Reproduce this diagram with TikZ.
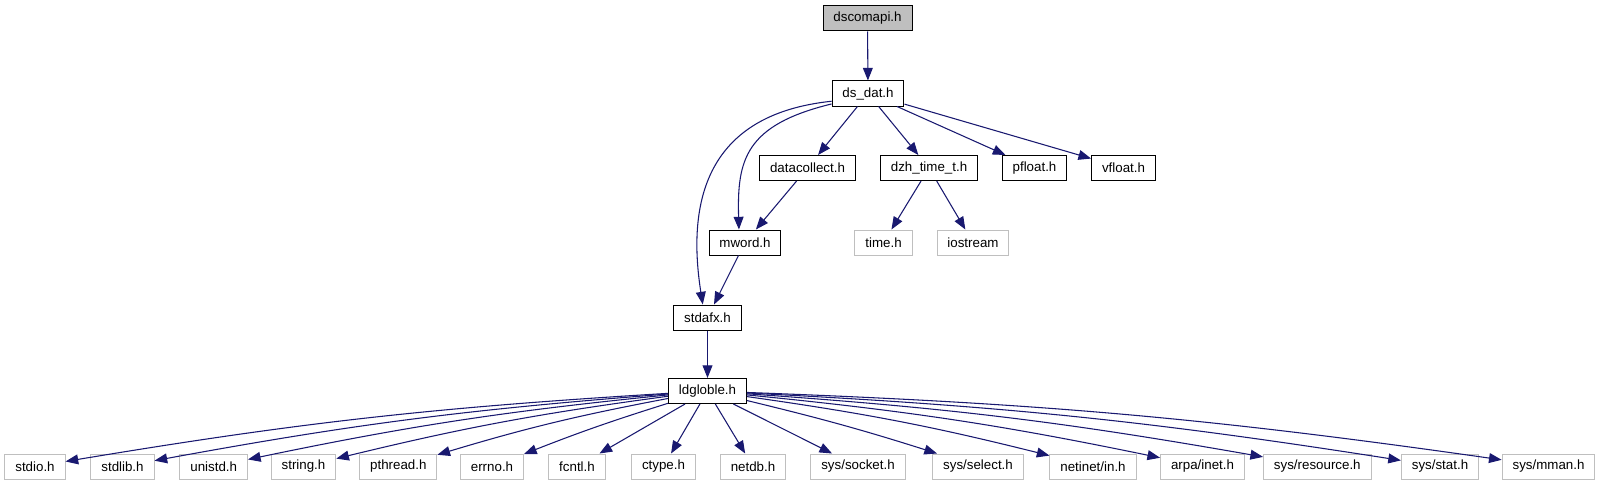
\documentclass[tikz,border=0pt]{standalone}
\usepackage{fontspec}
\setmainfont{Liberation Sans}
\usetikzlibrary{arrows.meta}
\definecolor{edgeblue}{HTML}{191970}
\definecolor{boxgray}{HTML}{BFBFBF}
\begin{document}
\begin{tikzpicture}[x=0.75pt,y=-0.75pt,every node/.style={font=\fontsize{10}{12}\selectfont}]
    \tikzset{
      hdr/.style={draw=black,rectangle,line width=0.75pt,fill=white,
        inner xsep=7.8pt,inner ysep=0pt,minimum height=18.75pt},
      sys/.style={hdr,draw=boxgray},
      root/.style={hdr,fill=boxgray},
      dep/.style={-{Triangle[length=9.5pt,width=7.4pt]},draw=edgeblue,
        line width=0.8pt}
    }
    \useasboundingbox (0,0) rectangle (1605,485);

    \node[root] (dscomapi) at (867.5,18.5) {dscomapi.h};
    \node[hdr] (dsdat) at (868,93.5) {ds\_dat.h};
    \node[hdr] (datacollect) at (807.5,168) {datacollect.h};
    \node[hdr] (dzhtime) at (929,168) {dzh\_time\_t.h};
    \node[hdr] (pfloat) at (1034.5,168) {pfloat.h};
    \node[hdr] (vfloat) at (1123.5,168) {vfloat.h};
    \node[hdr] (mword) at (745,242.5) {mword.h};
    \node[sys] (timeh) at (883.5,242.5) {time.h};
    \node[sys] (iostream) at (973,242.5) {iostream};
    \node[hdr] (stdafx) at (707.5,317.5) {stdafx.h};
    \node[hdr] (ldgloble) at (707.5,391) {ldgloble.h};

    \node[sys] (stdio) at (35,466.5) {stdio.h};
    \node[sys] (stdlib) at (122.5,466.5) {stdlib.h};
    \node[sys] (unistd) at (213.7,466.5) {unistd.h};
    \node[sys] (string) at (303.5,466.5) {string.h};
    \node[sys] (pthread) at (398.3,466.5) {pthread.h};
    \node[sys] (errno) at (492,466.5) {errno.h};
    \node[sys] (fcntl) at (577,466.5) {fcntl.h};
    \node[sys] (ctype) at (663.5,466.5) {ctype.h};
    \node[sys] (netdb) at (753,466.5) {netdb.h};
    \node[sys] (socket) at (858,466.5) {sys/socket.h};
    \node[sys] (select) at (978,466.5) {sys/select.h};
    \node[sys] (netinet) at (1093,466.5) {netinet/in.h};
    \node[sys] (arpa) at (1202.5,466.5) {arpa/inet.h};
    \node[sys] (resource) at (1317.3,466.5) {sys/resource.h};
    \node[sys] (sysstat) at (1440,466.5) {sys/stat.h};
    \node[sys] (mman) at (1548.5,466.5) {sys/mman.h};

    \draw[dep] (dscomapi) -- (dsdat);
    \draw[dep] (dsdat) -- (datacollect);
    \draw[dep] (dsdat) -- (dzhtime);
    \draw[dep] (dsdat) -- (pfloat);
    \draw[dep] (dsdat) -- (vfloat);
    \draw[dep] (dsdat.192) .. controls (700,115) and (688,210) .. (stdafx.110);
    \draw[dep] (dsdat.196) .. controls (745,125) and (737,160) .. (mword.115);
    \draw[dep] (datacollect) -- (mword);
    \draw[dep] (dzhtime) -- (timeh);
    \draw[dep] (dzhtime) -- (iostream);
    \draw[dep] (mword) -- (stdafx);
    \draw[dep] (stdafx) -- (ldgloble);

    \draw[dep] (ldgloble) to[bend right=3] (stdio);
    \draw[dep] (ldgloble) to[bend right=3] (stdlib);
    \draw[dep] (ldgloble) to[bend right=3] (unistd);
    \draw[dep] (ldgloble) to[bend right=3] (string);
    \draw[dep] (ldgloble) to[bend right=3] (pthread);
    \draw[dep] (ldgloble) to[bend right=2] (errno);
    \draw[dep] (ldgloble) -- (fcntl);
    \draw[dep] (ldgloble) -- (ctype);
    \draw[dep] (ldgloble) -- (netdb);
    \draw[dep] (ldgloble) -- (socket);
    \draw[dep] (ldgloble) to[bend left=2] (select);
    \draw[dep] (ldgloble) to[bend left=3] (netinet);
    \draw[dep] (ldgloble) to[bend left=3] (arpa);
    \draw[dep] (ldgloble) to[bend left=3] (resource);
    \draw[dep] (ldgloble) to[bend left=3] (sysstat);
    \draw[dep] (ldgloble) to[bend left=3] (mman);
  \end{tikzpicture}
\end{document}
